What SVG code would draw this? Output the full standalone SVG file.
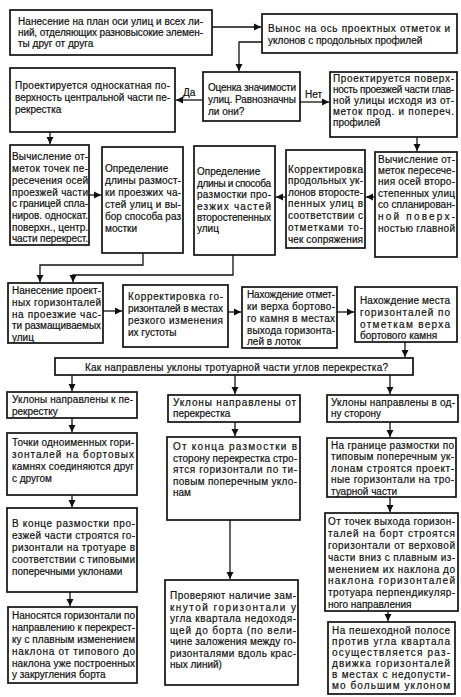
<svg xmlns="http://www.w3.org/2000/svg" width="461" height="697" viewBox="0 0 461 697">
<style>
.b{fill:#fff;stroke:#111;stroke-width:1.7}
.t{font-family:"Liberation Sans",Arial,sans-serif;font-size:10px;fill:#111;stroke:#111;stroke-width:0.2}
.c{fill:none;stroke:#111;stroke-width:1.3}
</style>
<defs>
<marker id="ah" markerUnits="userSpaceOnUse" markerWidth="8" markerHeight="8" refX="7" refY="4" orient="auto">
<path d="M0,0.5 L7,4 L0,7.5 z" fill="#111"/>
</marker>
</defs>
<rect width="461" height="697" fill="#fff"/>
<g id="connectors">
<path class="c" d="M212,27 H261" marker-end="url(#ah)"/>
<path class="c" d="M262,42 H239 V71" marker-end="url(#ah)"/>
<path class="c" d="M203,100 H176" marker-end="url(#ah)"/>
<path class="c" d="M300,102 H329" marker-end="url(#ah)"/>
<path class="c" d="M50,132 V144" marker-end="url(#ah)"/>
<path class="c" d="M417,137 V151" marker-end="url(#ah)"/>
<path class="c" d="M89,195 H101" marker-end="url(#ah)"/>
<path class="c" d="M375,197 H366" marker-end="url(#ah)"/>
<path class="c" d="M286,197 H276" marker-end="url(#ah)"/>
<path class="c" d="M143,253 V265 H40 V282" marker-end="url(#ah)"/>
<path class="c" d="M233,255 V275 H73 V282" marker-end="url(#ah)"/>
<path class="c" d="M103,311 H122" marker-end="url(#ah)"/>
<path class="c" d="M228,312 H241" marker-end="url(#ah)"/>
<path class="c" d="M337,312 H354" marker-end="url(#ah)"/>
<path class="c" d="M405,342 V357" marker-end="url(#ah)"/>
<path class="c" d="M72,375 V391" marker-end="url(#ah)"/>
<path class="c" d="M235,375 V394" marker-end="url(#ah)"/>
<path class="c" d="M390,375 V394" marker-end="url(#ah)"/>
<path class="c" d="M72,418 V432" marker-end="url(#ah)"/>
<path class="c" d="M72,495 V507" marker-end="url(#ah)"/>
<path class="c" d="M70,592 V606" marker-end="url(#ah)"/>
<path class="c" d="M235,422 V436" marker-end="url(#ah)"/>
<path class="c" d="M230,520 V579" marker-end="url(#ah)"/>
<path class="c" d="M390,422 V437" marker-end="url(#ah)"/>
<path class="c" d="M390,497 V512" marker-end="url(#ah)"/>
<path class="c" d="M388,611 V621" marker-end="url(#ah)"/>
<text class="t" x="183" y="96">Да</text>
<text class="t" x="305" y="98">Нет</text>
</g>
<g id="n1"><rect class="b" x="10" y="10" width="202" height="45"/>
<text class="t" x="18" y="25" textLength="185">Нанесение на план оси улиц и всех ли-</text>
<text class="t" x="18" y="36" textLength="185">ний, отделяющих разновысокие элемен-</text>
<text class="t" x="18" y="47">ты друг от друга</text></g>
<g id="n2"><rect class="b" x="262" y="14" width="195" height="39"/>
<text class="t" x="268" y="32" textLength="182">Вынос на ось проектных отметок и</text>
<text class="t" x="268" y="44">уклонов с продольных профилей</text></g>
<g id="n3"><rect class="b" x="10" y="68" width="165" height="64"/>
<text class="t" x="15" y="89" textLength="155">Проектируется односкатная по-</text>
<text class="t" x="15" y="101" textLength="155">верхность центральной части пе-</text>
<text class="t" x="15" y="113">рекрестка</text></g>
<g id="n4"><rect class="b" x="203" y="72" width="97" height="49"/>
<text class="t" x="208" y="91" textLength="88">Оценка значимости</text>
<text class="t" x="208" y="103" textLength="88">улиц. Равнозначны</text>
<text class="t" x="208" y="115">ли они?</text></g>
<g id="n5"><rect class="b" x="330" y="72" width="127" height="65"/>
<text class="t" x="333" y="82" textLength="121">Проектируется поверх-</text>
<text class="t" x="333" y="93" textLength="121">ность проезжей части глав-</text>
<text class="t" x="333" y="104" textLength="121">ной улицы исходя из от-</text>
<text class="t" x="333" y="115" textLength="121">меток прод. и попереч.</text>
<text class="t" x="333" y="126">профилей</text></g>
<g id="n6"><rect class="b" x="10" y="145" width="79" height="100"/>
<text class="t" x="12" y="160" textLength="76">Вычисление от-</text>
<text class="t" x="12" y="172" textLength="76">меток точек пе-</text>
<text class="t" x="12" y="184" textLength="76">ресечения осей</text>
<text class="t" x="12" y="196" textLength="76">проезжей части</text>
<text class="t" x="12" y="207" textLength="76">с границей спла-</text>
<text class="t" x="12" y="219" textLength="76">ниров. односкат.</text>
<text class="t" x="12" y="231" textLength="76">поверхн., центр.</text>
<text class="t" x="12" y="242" textLength="76">части перекрест.</text></g>
<g id="n7"><rect class="b" x="102" y="147" width="81" height="106"/>
<text class="t" x="105" y="172">Определение</text>
<text class="t" x="105" y="184" textLength="76">длины размост-</text>
<text class="t" x="105" y="196" textLength="76">ки проезжих ча-</text>
<text class="t" x="105" y="208" textLength="76">стей улиц и вы-</text>
<text class="t" x="105" y="220" textLength="76">бор способа раз</text>
<text class="t" x="105" y="232">мостки</text></g>
<g id="n8"><rect class="b" x="194" y="146" width="81" height="109"/>
<text class="t" x="197" y="175">Определение</text>
<text class="t" x="197" y="187" textLength="74">длины и способа</text>
<text class="t" x="197" y="198" textLength="74">размостки про-</text>
<text class="t" x="197" y="210" textLength="74">езжих частей</text>
<text class="t" x="197" y="221" textLength="74">второстепенных</text>
<text class="t" x="197" y="232">улиц</text></g>
<g id="n9"><rect class="b" x="286" y="150" width="79" height="98"/>
<text class="t" x="288" y="173" textLength="75">Корректировка</text>
<text class="t" x="288" y="184" textLength="75">продольных ук-</text>
<text class="t" x="288" y="196" textLength="75">лонов второсте-</text>
<text class="t" x="288" y="207" textLength="75">пенных улиц в</text>
<text class="t" x="288" y="219" textLength="75">соответствии с</text>
<text class="t" x="288" y="231" textLength="75">отметками то-</text>
<text class="t" x="288" y="243" textLength="75">чек сопряжения</text></g>
<g id="n10"><rect class="b" x="375" y="152" width="82" height="105"/>
<text class="t" x="378" y="163" textLength="77">Вычисление от-</text>
<text class="t" x="378" y="174" textLength="77">меток пересече-</text>
<text class="t" x="378" y="185" textLength="77">ния осей второ-</text>
<text class="t" x="378" y="197" textLength="77">степенных улиц</text>
<text class="t" x="378" y="208" textLength="77">со спланирован-</text>
<text class="t" x="378" y="220" textLength="77">ной поверх-</text>
<text class="t" x="378" y="232" textLength="77">ностью главной</text></g>
<g id="n11"><rect class="b" x="8" y="283" width="95" height="60"/>
<text class="t" x="12" y="294" textLength="89">Нанесение проект-</text>
<text class="t" x="12" y="306" textLength="89">ных горизонталей</text>
<text class="t" x="12" y="318" textLength="89">на проезжие час-</text>
<text class="t" x="12" y="329" textLength="89">ти размащиваемых</text>
<text class="t" x="12" y="341">улиц</text></g>
<g id="n12"><rect class="b" x="123" y="285" width="105" height="62"/>
<text class="t" x="128" y="300" textLength="95">Корректировка го-</text>
<text class="t" x="128" y="312" textLength="95">ризонталей в местах</text>
<text class="t" x="128" y="324" textLength="95">резкого изменения</text>
<text class="t" x="128" y="336">их густоты</text></g>
<g id="n13"><rect class="b" x="242" y="287" width="95" height="61"/>
<text class="t" x="247" y="298" textLength="88">Нахождение отмет-</text>
<text class="t" x="247" y="310" textLength="88">ки верха бортово-</text>
<text class="t" x="247" y="322" textLength="88">го камня в местах</text>
<text class="t" x="247" y="334" textLength="88">выхода горизонта-</text>
<text class="t" x="247" y="345">лей в лоток</text></g>
<g id="n14"><rect class="b" x="355" y="287" width="102" height="55"/>
<text class="t" x="360" y="304" textLength="90">Нахождение места</text>
<text class="t" x="360" y="316" textLength="90">горизонталей по</text>
<text class="t" x="360" y="328" textLength="90">отметкам верха</text>
<text class="t" x="360" y="339">бортового камня</text></g>
<g id="n15"><rect class="b" x="55" y="358" width="358" height="17"/>
<text class="t" x="85" y="370.5" textLength="303">Как направлены уклоны тротуарной части углов перекрестка?</text></g>
<g id="n16"><rect class="b" x="7" y="392" width="130" height="26"/>
<text class="t" x="12" y="402.5" textLength="121">Уклоны направлены к пе-</text>
<text class="t" x="12" y="414.5">рекрестку</text></g>
<g id="n17"><rect class="b" x="7" y="433" width="130" height="62"/>
<text class="t" x="12" y="446" textLength="122">Точки одноименных гори-</text>
<text class="t" x="12" y="458" textLength="122">зонталей на бортовых</text>
<text class="t" x="12" y="470" textLength="122">камнях соединяются друг</text>
<text class="t" x="12" y="482">с другом</text></g>
<g id="n18"><rect class="b" x="7" y="508" width="130" height="84"/>
<text class="t" x="12" y="527" textLength="123">В конце размостки про-</text>
<text class="t" x="12" y="539" textLength="123">езжей части строятся го-</text>
<text class="t" x="12" y="551" textLength="123">ризонтали на тротуаре в</text>
<text class="t" x="12" y="563" textLength="123">соответствии с типовыми</text>
<text class="t" x="12" y="575">поперечными уклонами</text></g>
<g id="n19"><rect class="b" x="8" y="607" width="129" height="76"/>
<text class="t" x="12" y="618.5" textLength="123">Наносятся горизонтали по</text>
<text class="t" x="12" y="630.5" textLength="123">направлению к перекрест-</text>
<text class="t" x="12" y="642.5" textLength="123">ку с плавным изменением</text>
<text class="t" x="12" y="654.5" textLength="123">наклона от типового до</text>
<text class="t" x="12" y="666.5" textLength="123">наклона уже построенных</text>
<text class="t" x="12" y="678">у закругления борта</text></g>
<g id="n20"><rect class="b" x="168" y="395" width="132" height="27"/>
<text class="t" x="173" y="405.5" textLength="123">Уклоны направлены от</text>
<text class="t" x="173" y="416.5">перекрестка</text></g>
<g id="n21"><rect class="b" x="167" y="437" width="133" height="83"/>
<text class="t" x="173" y="450" textLength="124">От конца размостки в</text>
<text class="t" x="173" y="461.5" textLength="124">сторону перекрестка стро-</text>
<text class="t" x="173" y="473" textLength="124">ятся горизонтали по ти-</text>
<text class="t" x="173" y="484.5" textLength="124">повым поперечным укло-</text>
<text class="t" x="173" y="496">нам</text></g>
<g id="n22"><rect class="b" x="165" y="580" width="133" height="105"/>
<text class="t" x="170" y="598.5" textLength="126">Проверяют наличие зам-</text>
<text class="t" x="170" y="610.5" textLength="126">кнутой горизонтали у</text>
<text class="t" x="170" y="622" textLength="126">угла квартала недоходя-</text>
<text class="t" x="170" y="633.5" textLength="126">щей до борта (по вели-</text>
<text class="t" x="170" y="645" textLength="126">чине заложения между го-</text>
<text class="t" x="170" y="656.5" textLength="126">ризонталями вдоль крас-</text>
<text class="t" x="170" y="668">ных линий)</text></g>
<g id="n23"><rect class="b" x="327" y="395" width="131" height="27"/>
<text class="t" x="331" y="405.5" textLength="124">Уклоны направлены в од-</text>
<text class="t" x="331" y="416.5">ну сторону</text></g>
<g id="n24"><rect class="b" x="327" y="438" width="129" height="59"/>
<text class="t" x="331" y="448.5" textLength="123">На границе размостки по</text>
<text class="t" x="331" y="460" textLength="123">типовым поперечным ук-</text>
<text class="t" x="331" y="471.5" textLength="123">лонам строятся проект-</text>
<text class="t" x="331" y="483" textLength="123">ные горизонтали на тро-</text>
<text class="t" x="331" y="494.5">туарной части</text></g>
<g id="n25"><rect class="b" x="325" y="513" width="133" height="98"/>
<text class="t" x="328" y="525" textLength="127">От точек выхода горизон-</text>
<text class="t" x="328" y="537" textLength="127">талей на борт строятся</text>
<text class="t" x="328" y="549" textLength="127">горизонтали от верховой</text>
<text class="t" x="328" y="561" textLength="127">части вниз с плавным из-</text>
<text class="t" x="328" y="572.5" textLength="127">менением их наклона до</text>
<text class="t" x="328" y="584" textLength="127">наклона горизонталей</text>
<text class="t" x="328" y="596" textLength="127">тротуара перпендикуляр-</text>
<text class="t" x="328" y="607.5">ного направления</text></g>
<g id="n26"><rect class="b" x="328" y="622" width="127" height="72"/>
<text class="t" x="332" y="633.5" textLength="118">На пешеходной полосе</text>
<text class="t" x="332" y="645" textLength="118">против угла квартала</text>
<text class="t" x="332" y="656" textLength="118">осуществляется раз-</text>
<text class="t" x="332" y="667" textLength="118">движка горизонталей</text>
<text class="t" x="332" y="678" textLength="118">в местах с недопусти-</text>
<text class="t" x="332" y="689" textLength="118">мо большим уклоном</text></g>
</svg>
